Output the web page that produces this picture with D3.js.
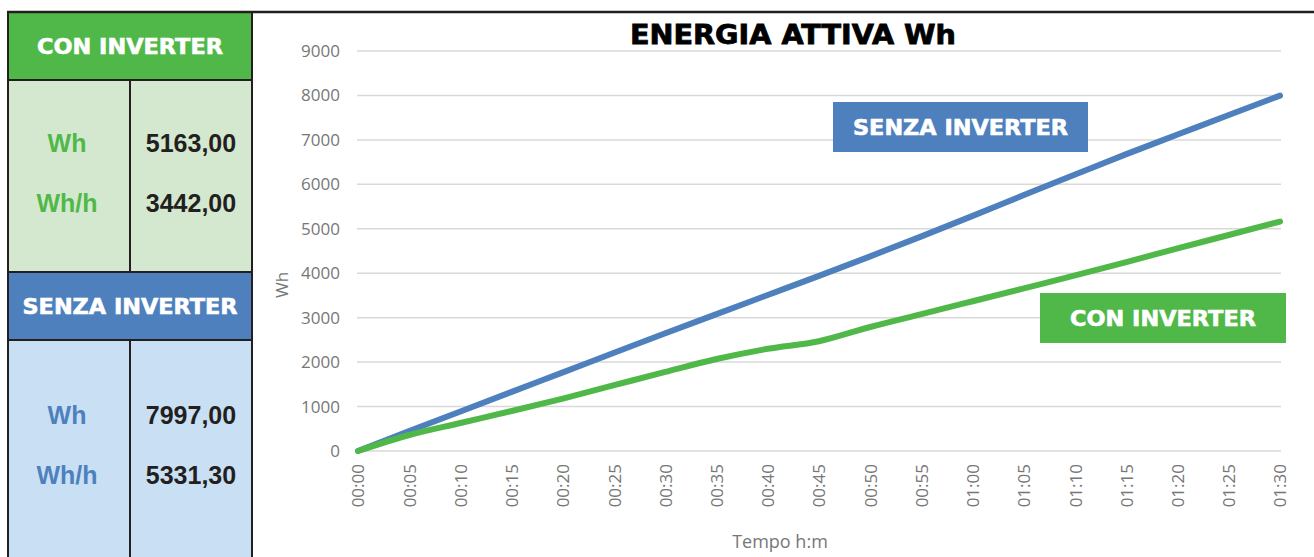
<!DOCTYPE html>
<html>
<head>
<meta charset="utf-8">
<script src="https://cdn.jsdelivr.net/npm/d3@7"></script>
<style>
  html, body { margin: 0; padding: 0; background: #ffffff; }
  svg { display: block; }
</style>
</head>
<body>
<div id="chart"></div>
<script>
(function () {
  'use strict';
  /* global d3 */

  var times = ['00:00', '00:05', '00:10', '00:15', '00:20', '00:25', '00:30', '00:35', '00:40', '00:45',
               '00:50', '00:55', '01:00', '01:05', '01:10', '01:15', '01:20', '01:25', '01:30'];
  var senzaWh = [0, 450, 890, 1330, 1770, 2210, 2650, 3080, 3510, 3940,
                 4380, 4830, 5290, 5760, 6220, 6680, 7120, 7560, 7997];
  var conWh = [0, 360, 630, 900, 1180, 1480, 1780, 2070, 2300, 2470,
               2790, 3080, 3370, 3660, 3950, 4250, 4560, 4860, 5163];
  var yTicks = [0, 1000, 2000, 3000, 4000, 5000, 6000, 7000, 8000, 9000];

  var rowLabels = ['Wh', 'Wh/h'];
  var conTable = ['5163,00', '3442,00'];
  var senzaTable = ['7997,00', '5331,30'];

  var W = 1314, H = 557;
  var green = '#50b848', blue = '#4e80bd';
  var headFont = '"DejaVu Sans", sans-serif';
  var axisGray = '#777777';

  var svg = d3.select('#chart')
    .append('svg')
    .attr('width', W)
    .attr('height', H);

  // heavy white caption, stretched to the width seen in the picture
  function caption(sel, cx, by, label, len) {
    sel.append('text')
      .attr('x', cx).attr('y', by)
      .attr('text-anchor', 'middle')
      .attr('font-family', headFont).attr('font-weight', 'bold').attr('font-size', 21)
      .attr('textLength', len).attr('lengthAdjust', 'spacingAndGlyphs')
      .attr('stroke', '#ffffff').attr('stroke-width', 0.6)
      .attr('fill', '#ffffff')
      .text(label);
  }

  // ---- left table ----
  var tbl = svg.append('g');
  var tx0 = 8, tx1 = 252, tmid = 130;

  function block(y0, y1, headColor, bodyColor, y2, title, len) {
    tbl.append('rect').attr('x', tx0).attr('y', y0).attr('width', tx1 - tx0).attr('height', y1 - y0)
      .attr('fill', headColor);
    tbl.append('rect').attr('x', tx0).attr('y', y1).attr('width', tx1 - tx0).attr('height', y2 - y1)
      .attr('fill', bodyColor);
    caption(tbl, (tx0 + tx1) / 2, (y0 + y1) / 2 + 8, title, len);
    tbl.append('line').attr('x1', tx0).attr('x2', tx1).attr('y1', y1).attr('y2', y1)
      .attr('stroke', '#231f20').attr('stroke-width', 2);
    tbl.append('line').attr('x1', tmid).attr('x2', tmid).attr('y1', y1).attr('y2', y2)
      .attr('stroke', '#231f20').attr('stroke-width', 2);
  }

  block(12, 80, green, '#d4e8cf', 272, 'CON INVERTER', 186);
  block(272, 340, blue, '#c9e0f4', H, 'SENZA INVERTER', 215);
  tbl.append('line').attr('x1', tx0).attr('x2', tx1).attr('y1', 272).attr('y2', 272)
    .attr('stroke', '#231f20').attr('stroke-width', 2);

  function rows(baseY, color, values) {
    rowLabels.forEach(function (lab, i) {
      tbl.append('text')
        .attr('x', 67).attr('y', baseY + i * 60)
        .attr('text-anchor', 'middle')
        .attr('font-family', '"Liberation Sans", Arial, sans-serif').attr('font-weight', 'bold')
        .attr('font-size', 25).attr('fill', color)
        .text(lab);
      tbl.append('text')
        .attr('x', 191).attr('y', baseY + i * 60)
        .attr('text-anchor', 'middle')
        .attr('font-family', '"Liberation Sans", Arial, sans-serif').attr('font-weight', 'bold')
        .attr('font-size', 25).attr('fill', '#231f20')
        .text(values[i]);
    });
  }
  rows(152, green, conTable);
  rows(424, blue, senzaTable);

  // outer borders
  svg.append('line').attr('x1', tx0).attr('x2', tx0).attr('y1', 12).attr('y2', H)
    .attr('stroke', '#231f20').attr('stroke-width', 2);
  svg.append('line').attr('x1', tx1).attr('x2', tx1).attr('y1', 12).attr('y2', H)
    .attr('stroke', '#231f20').attr('stroke-width', 2);
  svg.append('line').attr('x1', tx0 - 1).attr('x2', W).attr('y1', 12).attr('y2', 12)
    .attr('stroke', '#231f20').attr('stroke-width', 2.5);

  // ---- chart ----
  var x = d3.scalePoint().domain(times).range([358, 1280]);
  var y = d3.scaleLinear().domain([0, 9000]).range([451, 51]);

  var grid = svg.append('g');
  grid.selectAll('line')
    .data(yTicks)
    .enter()
    .append('line')
    .attr('x1', 357).attr('x2', 1281)
    .attr('y1', function (d) { return y(d); })
    .attr('y2', function (d) { return y(d); })
    .attr('stroke', '#d9d9d9').attr('stroke-width', 1.5);

  var yAxis = svg.append('g')
    .attr('transform', 'translate(340,0)')
    .call(d3.axisLeft(y).tickValues(yTicks).tickFormat(d3.format('d')).tickSize(0).tickPadding(0));
  yAxis.select('.domain').remove();
  yAxis.selectAll('text')
    .attr('font-family', '"Open Sans", sans-serif').attr('font-size', 17)
    .attr('fill', axisGray);

  var xAxis = svg.append('g')
    .attr('transform', 'translate(0,451)')
    .call(d3.axisBottom(x).tickSize(0));
  xAxis.select('.domain').remove();
  xAxis.selectAll('text')
    .attr('font-family', '"Open Sans", sans-serif').attr('font-size', 17)
    .attr('fill', axisGray)
    .attr('transform', 'rotate(-90)')
    .attr('text-anchor', 'end')
    .attr('x', -13).attr('y', 0).attr('dy', '0.35em');

  svg.append('text')
    .attr('transform', 'translate(288,285) rotate(-90)')
    .attr('text-anchor', 'middle')
    .attr('font-family', '"Open Sans", sans-serif').attr('font-size', 17)
    .attr('fill', axisGray)
    .text('Wh');

  svg.append('text')
    .attr('x', 780).attr('y', 548)
    .attr('text-anchor', 'middle')
    .attr('font-family', '"Open Sans", sans-serif').attr('font-size', 18)
    .attr('fill', axisGray)
    .text('Tempo h:m');

  svg.append('text')
    .attr('x', 793).attr('y', 44)
    .attr('text-anchor', 'middle')
    .attr('font-family', headFont).attr('font-weight', 'bold').attr('font-size', 27)
    .attr('textLength', 326).attr('lengthAdjust', 'spacingAndGlyphs')
    .attr('stroke', '#000000').attr('stroke-width', 0.8)
    .attr('fill', '#000000')
    .text('ENERGIA ATTIVA Wh');

  var lineFun = d3.line()
    .x(function (d, i) { return x(times[i]); })
    .y(function (d) { return y(d); })
    .curve(d3.curveMonotoneX);

  svg.append('path')
    .attr('d', lineFun(senzaWh))
    .attr('stroke', blue).attr('stroke-width', 6).attr('fill', 'none')
    .attr('stroke-linecap', 'round');
  svg.append('path')
    .attr('d', lineFun(conWh))
    .attr('stroke', green).attr('stroke-width', 6).attr('fill', 'none')
    .attr('stroke-linecap', 'round');

  // labels in boxes
  function tag(x0, y0, w, h, color, label, len) {
    svg.append('rect').attr('x', x0).attr('y', y0).attr('width', w).attr('height', h).attr('fill', color);
    caption(svg, x0 + w / 2, y0 + h / 2 + 8, label, len);
  }
  tag(833, 102, 255, 50, blue, 'SENZA INVERTER', 215);
  tag(1040, 293, 246, 50, green, 'CON INVERTER', 186);

}());
</script>
</body>
</html>
